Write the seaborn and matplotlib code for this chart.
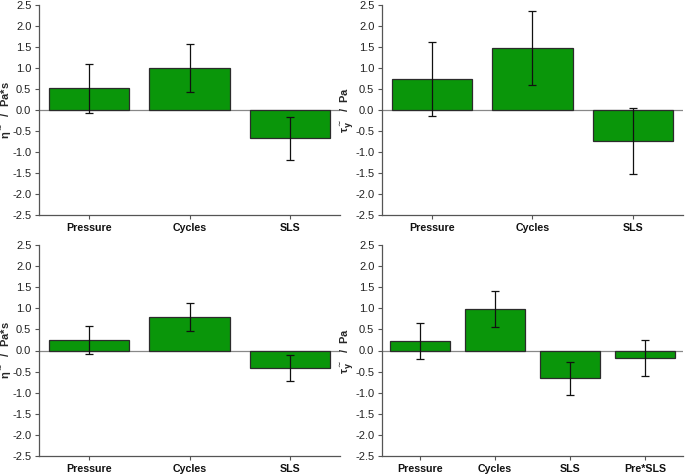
import pandas as pd
import seaborn as sns
import matplotlib.pyplot as plt

# effect estimates
cats3 = ['Pressure', 'Cycles', 'SLS']
cats4 = ['Pressure', 'Cycles', 'SLS', 'Pre*SLS']

eta_a = [0.52, 0.99, -0.67]
eta_a_err = [0.58, 0.57, 0.51]
tau_a = [0.73, 1.47, -0.74]
tau_a_err = [0.88, 0.88, 0.79]
eta_b = [0.25, 0.80, -0.42]
eta_b_err = [0.34, 0.33, 0.31]
tau_b = [0.23, 0.99, -0.66]
tau_b_err = [0.43, 0.43, 0.39]
tau_b4 = [-0.18]
tau_b4_err = [0.42]

eta_label = r'η$^{\sim}$  /  Pa*s'
tau_label = r'τ$_{\mathbf{y}}^{\sim}$  /  Pa'

sns.set_style('white')
plt.rcParams['font.family'] = ['Liberation Sans', 'DejaVu Sans']
plt.rcParams['axes.unicode_minus'] = False
plt.rcParams['mathtext.fontset'] = 'dejavusans'

GREEN = '#0a960a'
EDGE = '#2b2b2b'
AXC = '#555555'

fig = plt.figure(figsize=(6.85, 4.74), dpi=100)
W, H = 685.0, 474.0


def add_ax(left, top, right, bottom):
    return fig.add_axes([left / W, 1 - bottom / H, (right - left) / W, (bottom - top) / H])


def panel(ax, cats, vals, errs, ylabel):
    df = pd.DataFrame({'cat': cats, 'val': vals})
    sns.barplot(data=df, x='cat', y='val', color=GREEN, edgecolor=EDGE,
                linewidth=0.9, width=0.8, saturation=1, ax=ax)
    xs = range(len(cats))
    ax.errorbar(list(xs), vals, yerr=errs, fmt='none', ecolor='#111111',
                elinewidth=0.9, capsize=3, capthick=0.9, zorder=5)
    ax.axhline(0, color='#888888', lw=0.9, zorder=0)
    ax.set_xlim(-0.5, len(cats) - 0.5)
    ax.set_ylim(-2.5, 2.5)
    ax.set_yticks([-2.5, -2.0, -1.5, -1.0, -0.5, 0.0, 0.5, 1.0, 1.5, 2.0, 2.5])
    ax.set_yticklabels(['%.1f' % v for v in ax.get_yticks()], fontsize=8, color='#222222')
    ax.set_xticks(list(xs))
    ax.set_xticklabels(cats, fontsize=7.7, fontweight='bold', color='#111111')
    ax.set_xlabel('')
    ax.set_ylabel(ylabel, fontsize=8, fontweight='bold')
    ax.yaxis.set_label_coords(-0.087, 0.5)
    for s in ['top', 'right']:
        ax.spines[s].set_visible(False)
    for s in ['left', 'bottom']:
        ax.spines[s].set_color(AXC)
        ax.spines[s].set_linewidth(0.9)
    ax.tick_params(axis='both', direction='out', length=3, width=0.8, color=AXC,
                   left=True, bottom=True, pad=2.5)


panel(add_ax(39, 5, 340, 215), cats3, eta_a, eta_a_err, eta_label)
panel(add_ax(382, 5, 683, 215), cats3, tau_a, tau_a_err, tau_label)
panel(add_ax(39, 245, 340, 456), cats3, eta_b, eta_b_err, eta_label)
panel(add_ax(382, 245, 683, 456), cats4, tau_b + tau_b4, tau_b_err + tau_b4_err, tau_label)

fig.savefig('out.png', dpi=100)
